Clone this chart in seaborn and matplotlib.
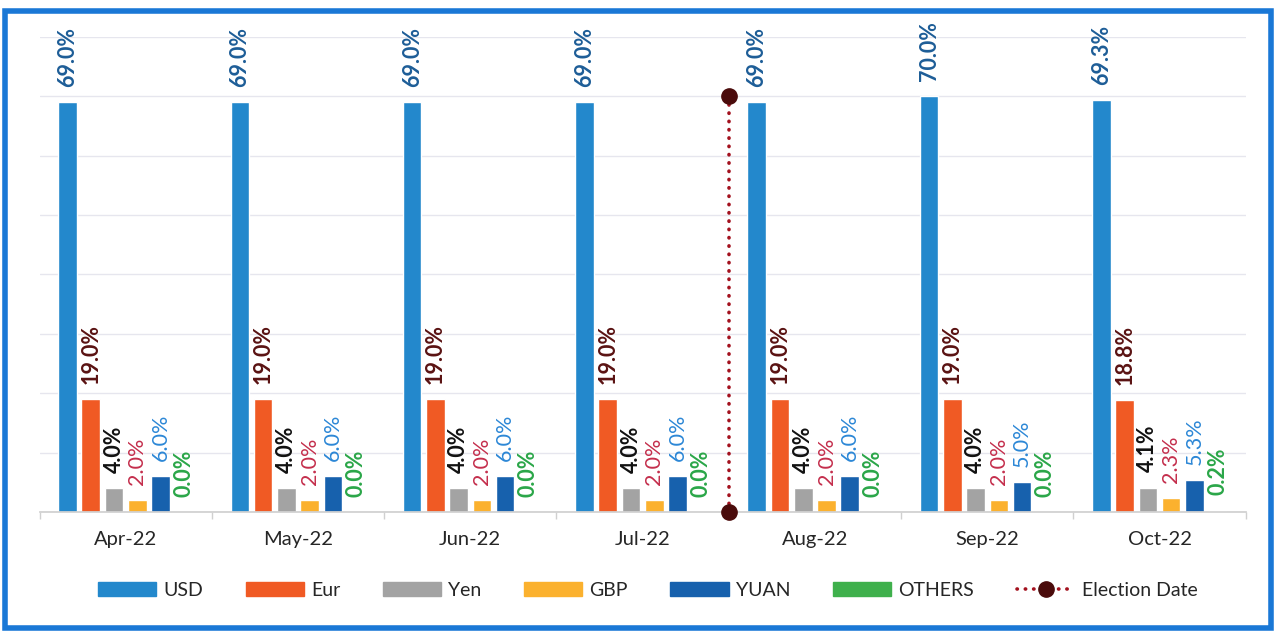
import numpy as np
import pandas as pd
import seaborn as sns
import matplotlib.pyplot as plt
from matplotlib.patches import Rectangle
from matplotlib.lines import Line2D

months = ["Apr-22", "May-22", "Jun-22", "Jul-22", "Aug-22", "Sep-22", "Oct-22"]
usd = [69.0, 69.0, 69.0, 69.0, 69.0, 70.0, 69.3]
eur = [19.0, 19.0, 19.0, 19.0, 19.0, 19.0, 18.8]
yen = [4.0, 4.0, 4.0, 4.0, 4.0, 4.0, 4.1]
gbp = [2.0, 2.0, 2.0, 2.0, 2.0, 2.0, 2.3]
yuan = [6.0, 6.0, 6.0, 6.0, 6.0, 5.0, 5.3]
others = [0.0, 0.0, 0.0, 0.0, 0.0, 0.0, 0.2]
currencies = ["USD", "Eur", "Yen", "GBP", "YUAN", "OTHERS"]
election_pos = 3.5   # between Jul-22 and Aug-22
election_top = 70

bar_colors = ["#2388cc", "#f05a24", "#a3a3a3", "#fbb12e", "#1761ad", "#3fb04c"]
label_colors = ["#1d5d97", "#5a1212", "#111111", "#c42e4c", "#2c87d6", "#2aa648"]
label_weights = ["bold", "bold", "bold", "normal", "normal", "bold"]

series = [usd, eur, yen, gbp, yuan, others]
df = pd.DataFrame({
    "month": np.tile(months, len(currencies)),
    "currency": np.repeat(currencies, len(months)),
    "share": np.concatenate(series),
})

sns.set_theme(style="white")
plt.rcParams["font.family"] = ["Lato", "DejaVu Sans"]

fig = plt.figure(figsize=(12.75, 6.32), dpi=100)
ax = fig.add_axes([0.031, 0.19, 0.946, 0.7515])

sns.barplot(data=df, x="month", y="share", hue="currency", order=months,
            hue_order=currencies, palette=bar_colors, width=0.81, gap=0.2,
            saturation=1, ax=ax, legend=False)

for cont, col, wt in zip(ax.containers, label_colors, label_weights):
    for bar in cont:
        h = bar.get_height()
        ax.annotate(f"{h:.1f}%", (bar.get_x() + bar.get_width() / 2, h),
                    xytext=(0, 11), textcoords="offset points", rotation=90,
                    ha="center", va="bottom", fontsize=15.5, color=col,
                    fontweight=wt, annotation_clip=False)

# election date marker
ax.plot([election_pos, election_pos], [0, election_top], color="#a3111e", lw=2.6,
        linestyle=(0, (0.1, 2.2)), dash_capstyle="round", zorder=4)
ax.plot([election_pos, election_pos], [0, election_top], linestyle="none", marker="o",
        ms=11, color="#4a0b0b", zorder=5, clip_on=False)

ax.set_ylim(0, 80)
ax.set_xlim(-0.5, 6.5)
ax.set_yticks(np.arange(0, 81, 10))
ax.set_yticklabels([])
ax.yaxis.grid(True, color="#e6e6ee", lw=1)
ax.set_axisbelow(True)
for s in ["left", "right", "top"]:
    ax.spines[s].set_visible(False)
ax.spines["bottom"].set_color("#d0d0d0")
ax.set_xlabel("")
ax.set_ylabel("")
ax.set_xticks(np.arange(-0.5, 7, 1), minor=True)
ax.tick_params(axis="x", which="major", length=0, pad=14, labelsize=14.5, labelcolor="#262626")
ax.tick_params(axis="x", which="minor", length=5, color="#d0d0d0", bottom=True)
ax.tick_params(axis="y", length=0)

handles = [Rectangle((0, 0), 1, 1, color=c) for c in bar_colors]
handles.append(Line2D([0], [0], color="#a3111e", lw=2.6, linestyle=(0, (0.1, 2.2)),
                      dash_capstyle="round", marker="o", ms=11,
                      markerfacecolor="#4a0b0b", markeredgecolor="#4a0b0b"))
fig.legend(handles, currencies + ["Election Date"], loc="center", bbox_to_anchor=(0.508, 0.066),
           ncol=7, frameon=False, fontsize=14, handlelength=3.0, handleheight=0.7,
           handletextpad=0.35, columnspacing=2.2, labelcolor="#262626")

fig.patches.append(Rectangle((0.004, 0.006), 0.993, 0.977, transform=fig.transFigure,
                             fill=False, edgecolor="#1a78d6", lw=4))

fig.savefig("out.png", dpi=100)
